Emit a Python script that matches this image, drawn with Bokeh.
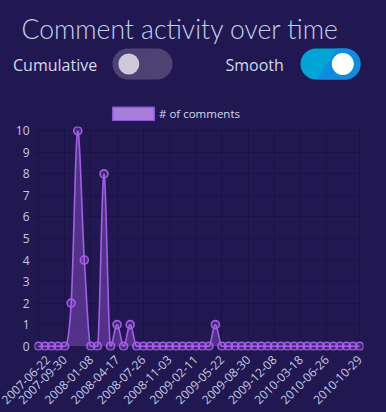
import numpy as np
from bokeh.plotting import figure
from bokeh.models import (ColumnDataSource, FixedTicker, Legend, LegendItem,
                          BoxAnnotation, Range1d)
from bokeh.core.properties import value
from bokeh.embed import file_html
from bokeh.resources import INLINE

# ---------------- data ----------------
title_text = "Comment activity over time"
toggle_labels = ["Cumulative", "Smooth"]
series_name = "# of comments"
# one bin every 25 days starting 2007-06-22 (50 bins, last = 2010-10-29)
comments = [0, 0, 0, 0, 0, 2, 10, 4, 0, 0,
            8, 0, 1, 0, 1, 0, 0, 0, 0, 0,
            0, 0, 0, 0, 0, 0, 0, 1, 0, 0,
            0, 0, 0, 0, 0, 0, 0, 0, 0, 0,
            0, 0, 0, 0, 0, 0, 0, 0, 0, 0]
tick_index = [0, 4, 8, 12, 16, 20, 24, 28, 32, 36, 40, 44, 49]
tick_labels = ["2007-06-22", "2007-09-30", "2008-01-08", "2008-04-17",
               "2008-07-26", "2008-11-03", "2009-02-11", "2009-05-22",
               "2009-08-30", "2009-12-08", "2010-03-18", "2010-06-26",
               "2010-10-29"]
y_ticks = list(range(0, 11))

# ---------------- style ----------------
BG = "#211852"
GRID = "#1b1345"
TEXT = "#d3d9ee"
TICK = "#c4cae2"
TITLE = "#c3d0ee"
LINE = "#a35ee6"
FONT = "Open Sans"

# -------- monotone cubic (rendering of the smooth line) --------
def monotone_curve(ys, samples=16):
    ys = np.asarray(ys, dtype=float)
    n = len(ys)
    xs = np.arange(n, dtype=float)
    d = np.diff(ys)
    m = np.zeros(n)
    m[0] = d[0]
    m[-1] = d[-1]
    for i in range(1, n - 1):
        if np.sign(d[i - 1]) != np.sign(d[i]) or d[i - 1] == 0 or d[i] == 0:
            m[i] = 0.0
        else:
            m[i] = (d[i - 1] + d[i]) / 2
    for i in range(n - 1):
        if d[i] == 0:
            m[i] = 0.0
            m[i + 1] = 0.0
            continue
        a = m[i] / d[i]
        b = m[i + 1] / d[i]
        s = a * a + b * b
        if s > 9:
            t = 3 / np.sqrt(s)
            m[i] = a * t * d[i]
            m[i + 1] = b * t * d[i]
    out_x, out_y = [], []
    for i in range(n - 1):
        t = np.linspace(0, 1, samples, endpoint=(i == n - 2))
        h00 = 2 * t**3 - 3 * t**2 + 1
        h10 = t**3 - 2 * t**2 + t
        h01 = -2 * t**3 + 3 * t**2
        h11 = t**3 - t**2
        out_x.extend(xs[i] + t)
        out_y.extend(h00 * ys[i] + h10 * m[i] + h01 * ys[i + 1] + h11 * m[i + 1])
    return np.array(out_x), np.clip(np.array(out_y), 0, None)

# ---------------- header (title, toggles, legend) ----------------
W = 386
HH = 121
head = figure(width=W, height=HH, x_range=Range1d(0, W), y_range=Range1d(HH, 0),
              x_axis_location=None, y_axis_location=None, toolbar_location=None,
              title=None, output_backend="svg", min_border=0,
              min_border_left=0, min_border_right=0, min_border_top=0, min_border_bottom=0,
              outline_line_color=None, background_fill_color=BG, border_fill_color=BG)
head.grid.visible = False

head.text(x=[21], y=[28.5], text=[title_text], text_font=value("Lato Light, Lato"),
          text_font_size="26.5px", text_color=TITLE, text_baseline="alphabetic")
head.text(x=[12.5, 225], y=[64.5, 64.5], text=toggle_labels, text_font=value(FONT),
          text_font_size="16px", text_color=TEXT, text_baseline="middle")

# toggle off
head.add_layout(BoxAnnotation(left=112, right=172, top=48, bottom=79,
                              fill_color="#4d4273", fill_alpha=1, line_color=None,
                              border_radius=16, level="underlay"))
head.scatter(x=[128.3], y=[63.5], size=21, fill_color="#cdcadc", line_color=None)

# toggle on (cyan -> blue diagonal split)
head.add_layout(BoxAnnotation(left=300, right=360, top=48, bottom=79,
                              fill_color="#00a5d6", fill_alpha=1, line_color=None,
                              border_radius=16, level="underlay"))
ang = np.linspace(-np.pi / 2, np.pi / 2, 30)
px = [316.7, 336.7] + list(344.5 + 15.5 * np.cos(ang)) + [316.7]
py = [79, 48] + list(63.5 + 15.5 * np.sin(ang)) + [79]
head.patch(px, py, fill_color="#0d8ce0", line_color=None)
head.scatter(x=[342.3], y=[63.5], size=22, fill_color="#ffffff", line_color=None)

# legend proxy (not drawn in the header: NaN extent)
legend_src = ColumnDataSource(dict(left=[np.nan], right=[np.nan], top=[np.nan], bottom=[np.nan]))
leg_r = head.quad(left="left", right="right", top="top", bottom="bottom", source=legend_src,
                  fill_color="#a87ddb", line_color="#8b58d6", line_width=1.5)
legend = Legend(items=[LegendItem(label=series_name, renderers=[leg_r])],
                location=(107, -1.4), padding=0, margin=0, spacing=0,
                glyph_width=52, glyph_height=17, label_height=17, label_standoff=0,
                border_line_color=None, background_fill_alpha=0,
                label_text_color=TEXT, label_text_font=FONT, label_text_font_size="11.5px")
head.add_layout(legend, "center")

# ---------------- chart ----------------
xi = list(range(len(comments)))
sx, sy = monotone_curve(comments)

p = figure(width=W, height=412 - HH, x_range=Range1d(-0.6, 49.6), y_range=Range1d(-0.2, 10.2),
           toolbar_location=None, output_backend="svg", title=None,
           min_border_left=34, min_border_right=23, min_border_top=126 - HH,
           min_border_bottom=62, outline_line_color=None,
           background_fill_color=BG, border_fill_color=BG)

p.varea(x=sx, y1=np.zeros_like(sy), y2=sy, fill_color=LINE, fill_alpha=0.38)
p.line(sx, sy, line_color=LINE, line_width=1.6)
src = ColumnDataSource(dict(x=xi, y=comments))
p.scatter("x", "y", source=src, size=8, fill_color=LINE, fill_alpha=0.25,
          line_color=LINE, line_width=1.6)

p.xaxis.ticker = FixedTicker(ticks=tick_index)
p.xaxis.major_label_overrides = {t: l for t, l in zip(tick_index, tick_labels)}
p.xaxis.major_label_orientation = np.pi / 4
p.yaxis.ticker = FixedTicker(ticks=y_ticks)
for ax in (p.xaxis, p.yaxis):
    ax.axis_line_color = None
    ax.major_tick_line_color = None
    ax.minor_tick_line_color = None
    ax.major_tick_out = 0
    ax.major_tick_in = 0
    ax.major_label_text_color = TICK
    ax.major_label_text_font = FONT
p.xaxis.major_label_text_font_size = "12px"
p.yaxis.major_label_text_font_size = "12px"
p.xaxis.major_label_standoff = 7
p.yaxis.major_label_standoff = 5
p.grid.grid_line_color = GRID
p.grid.grid_line_width = 1

html = file_html([head, p], INLINE)
css = ("<style>html,body{margin:0;padding:0;background:%s;overflow:hidden;}"
       "body > div{display:block;line-height:0;}</style>" % BG)
html = html.replace("</head>", css + "</head>", 1)
open("out.html", "w").write(html)
